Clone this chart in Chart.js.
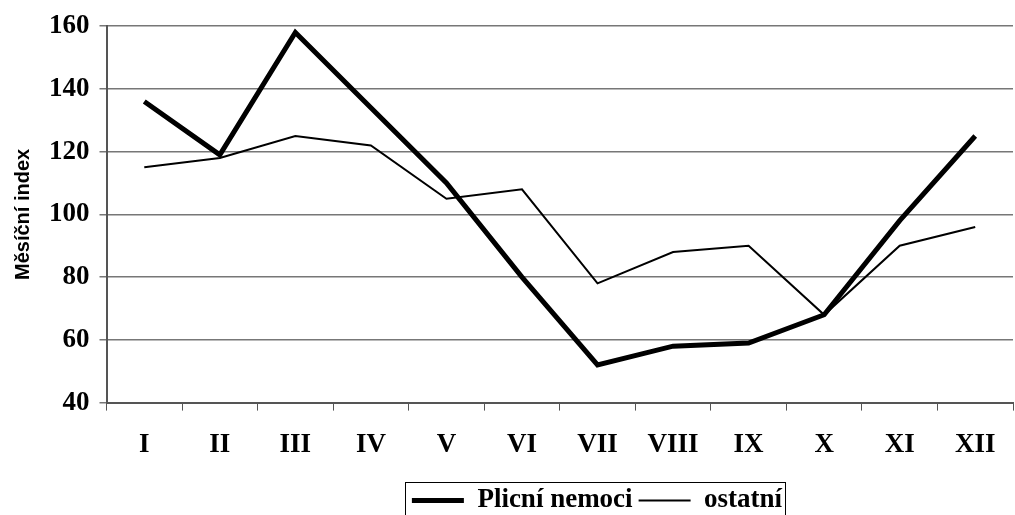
<!DOCTYPE html>
<html lang="cs">
<head>
    <meta charset="utf-8" />
    <title>Měsíční index</title>
    <script src="https://cdn.jsdelivr.net/npm/chart.js"></script>
    <style>
        html, body { margin: 0; padding: 0; background: #fff; }
        #wrap { width: 1015px; height: 515px; }
    </style>
</head>
<body>
    <div id="wrap"><canvas id="chart"></canvas></div>
    <script>
        const months = ['I', 'II', 'III', 'IV', 'V', 'VI', 'VII', 'VIII', 'IX', 'X', 'XI', 'XII'];
        const plicni = [136, 119, 158, 134, 110, 80, 52, 58, 59, 68, 98, 125];
        const ostatni = [115, 118, 125, 122, 105, 108, 78, 88, 90, 68, 90, 96];
        const yTicks = [40, 60, 80, 100, 120, 140, 160];

        const serif = '"Liberation Serif", "Times New Roman", serif';
        const legendCenter = 597; // the legend sits right of centre in the original
        const legendDrop = 2;

        // move the legend, then frame it
        const legendFrame = {
            id: 'legendFrame',
            afterUpdate(chart) {
                const lg = chart.legend;
                const boxes = lg.legendHitBoxes;
                if (!boxes || !boxes.length) return;
                const l = Math.min(...boxes.map(b => b.left));
                const r = Math.max(...boxes.map(b => b.left + b.width));
                const dx = legendCenter - (l + r) / 2;
                lg.left += dx;
                lg.right += dx;
                lg.top += legendDrop;
                lg.bottom += legendDrop;
                boxes.forEach(b => { b.left += dx; b.top += legendDrop; });
            },
            afterDraw(chart) {
                const boxes = chart.legend.legendHitBoxes;
                if (!boxes || !boxes.length) return;
                const left = Math.min(...boxes.map(b => b.left)) - 7;
                const right = Math.max(...boxes.map(b => b.left + b.width)) + 3;
                const top = Math.min(...boxes.map(b => b.top)) - 5;
                const ctx = chart.ctx;
                ctx.save();
                ctx.strokeStyle = '#000';
                ctx.lineWidth = 1;
                ctx.strokeRect(Math.round(left) + 0.5, Math.round(top) + 0.5, Math.round(right - left), chart.height - top + 5);
                ctx.restore();
            }
        };

        new Chart(document.getElementById('chart'), {
            type: 'line',
            data: {
                labels: months,
                datasets: [
                    {
                        label: 'Plicní nemoci',
                        data: plicni,
                        borderColor: '#000',
                        backgroundColor: '#000',
                        borderWidth: 5,
                        pointRadius: 0,
                        tension: 0
                    },
                    {
                        label: 'ostatní',
                        data: ostatni,
                        borderColor: '#000',
                        backgroundColor: '#000',
                        borderWidth: 2,
                        pointRadius: 0,
                        tension: 0
                    }
                ]
            },
            options: {
                responsive: true,
                maintainAspectRatio: false,
                animation: false,
                layout: { padding: { left: 11, top: 7, right: 2, bottom: 0 } },
                plugins: {
                    tooltip: { enabled: false },
                    legend: {
                        position: 'bottom',
                        maxHeight: 36,
                        labels: {
                            color: '#000',
                            font: { family: serif, size: 27, weight: 'bold' },
                            usePointStyle: true,
                            pointStyle: 'line',
                            pointStyleWidth: 52,
                            boxHeight: 10,
                            padding: 6
                        }
                    }
                },
                scales: {
                    x: {
                        offset: true,
                        grid: {
                            offset: true,
                            drawOnChartArea: false,
                            drawTicks: true,
                            tickLength: 8,
                            color: '#555',
                            lineWidth: 1
                        },
                        border: { color: '#555', width: 2 },
                        ticks: {
                            color: '#000',
                            padding: 18,
                            font: { family: serif, size: 27, weight: 'bold' }
                        }
                    },
                    y: {
                        min: 40,
                        max: 160,
                        afterBuildTicks(axis) {
                            axis.ticks = yTicks.map(v => ({ value: v }));
                        },
                        grid: {
                            color: '#777',
                            lineWidth: 1.5,
                            tickLength: 7
                        },
                        border: { color: '#555', width: 2 },
                        ticks: {
                            color: '#000',
                            padding: 10,
                            font: { family: serif, size: 27, weight: 'bold' }
                        },
                        title: {
                            display: true,
                            text: 'Měsíční index',
                            color: '#000',
                            padding: { top: 0, bottom: 4 },
                            font: { family: '"Liberation Sans", Arial, sans-serif', size: 20, weight: 'bold' }
                        }
                    }
                }
            },
            plugins: [legendFrame]
        });
    </script>
</body>
</html>
